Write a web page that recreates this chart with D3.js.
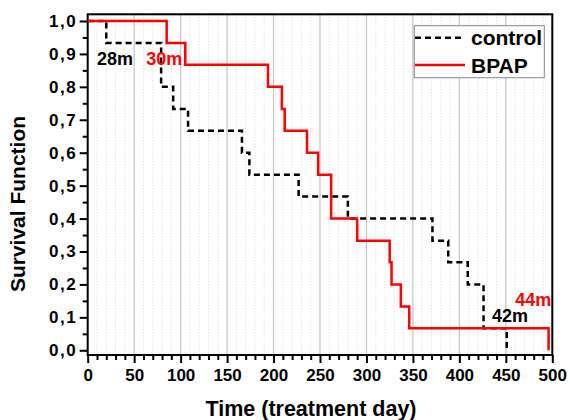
<!DOCTYPE html>
<html><head><meta charset="utf-8">
<script src="https://cdn.jsdelivr.net/npm/d3@7"></script>
<style>body{margin:0;background:#fff}svg{display:block}text{font-family:"Liberation Sans",Arial,sans-serif;font-weight:bold}</style>
</head><body><svg id="c" width="570" height="420"></svg>
<script>
const controlTime = [0, 20, 79, 92, 108, 166, 174, 227, 280, 371, 388, 409, 426, 451];
const controlSurv = [1.0, 0.933, 0.8, 0.733, 0.667, 0.6, 0.533, 0.467, 0.4, 0.333, 0.267, 0.2, 0.067, 0];
const bpapTime = [0, 85, 105, 194, 209, 212, 236, 248, 262, 290, 325, 327, 337, 346, 496];
const bpapSurv = [1.0, 0.933, 0.867, 0.8, 0.733, 0.667, 0.6, 0.533, 0.4, 0.333, 0.267, 0.2, 0.133, 0.067, 0];
const xTicks = [0, 50, 100, 150, 200, 250, 300, 350, 400, 450, 500];
const yTicks = [0, 0.1, 0.2, 0.3, 0.4, 0.5, 0.6, 0.7, 0.8, 0.9, 1.0];
const seriesNames = ["control", "BPAP"];
const annotations = [
  {text: "28m", series: "control", t: 10, s: 0.866},
  {text: "30m", series: "BPAP", t: 63, s: 0.866},
  {text: "42m", series: "control", t: 435, s: 0.087},
  {text: "44m", series: "BPAP", t: 460, s: 0.133}
];

const svg = d3.select("#c");
const L = 87.7, R = 552.3, T = 14.3, B = 355;
const x = d3.scaleLinear().domain([0, 500]).range([L, R]);
const y = d3.scaleLinear().domain([-0.0143, 1.0203]).range([B, T]);
const color = {control: "#000", BPAP: "#ff0000"};

// minor grid (every 10)
const minorX = d3.range(10, 500, 10).filter(v => v % 50 !== 0);
svg.append("g").selectAll("line").data(minorX).join("line")
  .attr("x1", d => x(d)).attr("x2", d => x(d)).attr("y1", T).attr("y2", B)
  .attr("stroke", "#d8d8d8").attr("stroke-width", 1).attr("stroke-dasharray", "1,2");
// major grid
svg.append("g").selectAll("line").data(xTicks.filter(v => v > 0 && v < 500)).join("line")
  .attr("x1", d => x(d)).attr("x2", d => x(d)).attr("y1", T).attr("y2", B)
  .attr("stroke", "#c4c4c4").attr("stroke-width", 1.2);

// axes
const fmt = d3.format(".1f");
const xAxis = d3.axisBottom(x).tickValues(xTicks).tickSize(8).tickPadding(6).tickFormat(d3.format("d"));
const xMinor = d3.axisBottom(x).tickValues(d3.range(0, 501, 10).filter(v => v % 50 !== 0)).tickSize(5).tickFormat("");
const yAxis = d3.axisLeft(y).tickValues(yTicks).tickSize(8).tickPadding(2.5).tickFormat(d => fmt(d).replace(".", ","));
const yMinor = d3.axisLeft(y).tickValues(d3.range(0.05, 1.0, 0.1)).tickSize(5).tickFormat("");

function style(g) {
  g.select(".domain").remove();
  g.selectAll("line").attr("stroke", "#000").attr("stroke-width", 2);
  g.selectAll("text").attr("font-size", 17).attr("fill", "#000")
    .style("font-family", '"Liberation Sans",Arial,sans-serif').style("font-weight", "bold");
}
svg.append("g").attr("transform", `translate(0,${B})`).call(xMinor).call(style);
svg.append("g").attr("transform", `translate(0,${B})`).call(xAxis).call(style)
  .selectAll("text").attr("dy", "0.71em");
svg.append("g").attr("transform", `translate(${L},0)`).call(yMinor).call(style);
svg.append("g").attr("transform", `translate(${L},0)`).call(yAxis).call(style)
  .selectAll("text").style("letter-spacing", "1.5px");

// frame
svg.append("rect").attr("x", L).attr("y", T).attr("width", R - L).attr("height", B - T)
  .attr("fill", "none").attr("stroke", "#000").attr("stroke-width", 2);

// lines
const line = d3.line().x(d => x(d[0])).y(d => y(d[1])).curve(d3.curveStepAfter);
const controlData = controlTime.map((t, i) => [t, controlSurv[i]]);
const bpapData = bpapTime.map((t, i) => [t, bpapSurv[i]]);
svg.append("path").datum(controlData).attr("d", line).attr("fill", "none")
  .attr("stroke", color.control).attr("stroke-width", 2.5).attr("stroke-dasharray", "6,4");
svg.append("path").datum(bpapData).attr("d", line).attr("fill", "none")
  .attr("stroke", color.BPAP).attr("stroke-width", 2.5);

// annotations
svg.append("g").selectAll("text").data(annotations).join("text")
  .attr("x", d => x(d.t)).attr("y", d => y(d.s))
  .attr("font-size", 18).attr("fill", d => color[d.series]).text(d => d.text);

// legend
const lg = svg.append("g");
lg.append("rect").attr("x", 414.3).attr("y", 25.7).attr("width", 130).attr("height", 52)
  .attr("fill", "#fff").attr("stroke", "#888").attr("stroke-width", 1);
seriesNames.forEach((n, i) => {
  const yy = 37.7 + i * 27.3;
  lg.append("line").attr("x1", 415).attr("x2", 465).attr("y1", yy).attr("y2", yy)
    .attr("stroke", color[n]).attr("stroke-width", 2.5)
    .attr("stroke-dasharray", n === "control" ? "6,4" : null);
  lg.append("text").attr("x", 471).attr("y", yy + 7.5).attr("font-size", 21).attr("fill", "#000").text(n);
});

// axis titles
svg.append("text").attr("x", 311).attr("y", 416).attr("text-anchor", "middle")
  .attr("font-size", 21.5).text("Time (treatment day)");
svg.append("text").attr("transform", "translate(25,204) rotate(-90)").attr("text-anchor", "middle")
  .attr("font-size", 21).text("Survival Function");
</script></body></html>
